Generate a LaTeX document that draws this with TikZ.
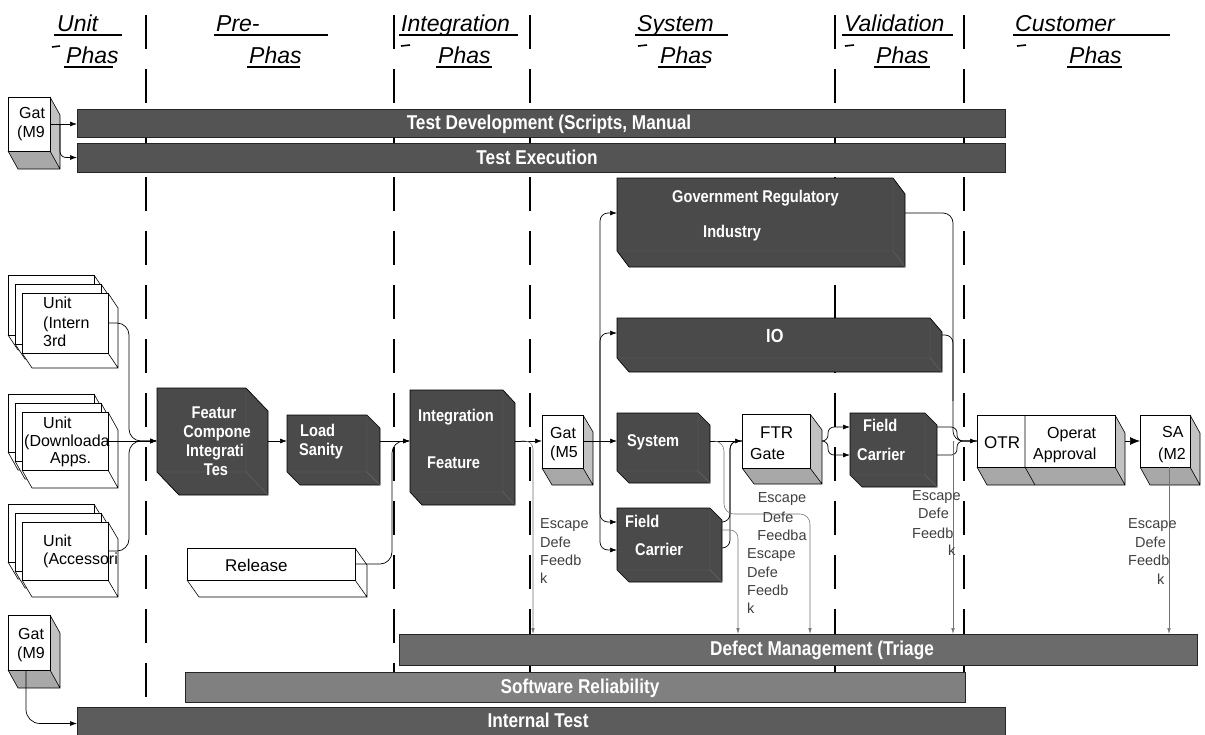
\documentclass[tikz,border=0pt]{standalone}
\usepackage{fontspec}
\setmainfont{Liberation Sans}
\newfontfamily\narrowfont[FakeStretch=0.86]{Liberation Sans}
\usetikzlibrary{arrows.meta,calc}

\definecolor{bartone}{gray}{0.33}
\definecolor{boxtone}{gray}{0.29}
\definecolor{defecttone}{gray}{0.42}
\definecolor{reltone}{gray}{0.50}
\definecolor{inttone}{gray}{0.36}
\definecolor{sidetone}{gray}{0.76}
\definecolor{bottomtone}{gray}{0.66}

\tikzset{
  divider/.style={line width=1.8pt, dash pattern=on 34pt off 20pt},
  bar/.style={rectangle, draw=black!85, line width=0.6pt, inner sep=0pt, outer sep=0pt, anchor=north west},
  anchorbox/.style={rectangle, inner sep=0pt, outer sep=0pt, draw=none},
  facebox/.style={rectangle, inner sep=0pt, outer sep=0pt, draw=black, fill=white, line width=0.6pt},
  flow/.style={draw=black, line width=0.7pt},
  arr/.style={flow, -{Latex[length=7pt,width=5pt]}},
  bigarr/.style={flow, -{Latex[length=10pt,width=8pt]}},
  esc/.style={draw=black!55, line width=0.55pt, -{Latex[length=6pt,width=3.5pt]}},
  hdr/.style={font=\fontsize{23}{26}\selectfont\itshape, anchor=base west, inner sep=0pt},
  uline/.style={line width=1.3pt},
  btxt/.style={font=\narrowfont\bfseries\fontsize{20}{22}\selectfont, text=white, anchor=base, inner sep=0pt},
  dtxt/.style={font=\narrowfont\bfseries\fontsize{17}{19}\selectfont, text=white, anchor=base west, inner sep=0pt},
  ltxt/.style={font=\fontsize{16}{18}\selectfont, anchor=base west, inner sep=0pt},
  etxt/.style={font=\fontsize{14.5}{17}\selectfont, text=black!75, anchor=base west, inner sep=0pt},
}

% dark chamfered block: name, x0, y0, x1, y1, chamfer x, chamfer y
\newcommand\dblock[7]{%
  \path[draw=black, fill=boxtone, line width=0.7pt] (#2,#3) -- ({#4-#6},#3) -- (#4,{#3+#7}) -- (#4,#5) -- ({#2+#6},#5) -- (#2,{#5-#7}) -- cycle;
  \draw[black!60, line width=0.4pt] ({#4-#6},#3) -- ({#4-#6},{#5-#7}) -- (#2,{#5-#7}) ({#4-#6},{#5-#7}) -- (#4,#5);
  \node[anchorbox, minimum width={#4-#2}, minimum height={#5-#3}] (#1) at ({(#2+#4)/2},{(#3+#5)/2}) {};
}

% light extruded block: name, x0, y0, x1, y1 (front face), dx, dy, side colour, bottom colour
\newcommand\lblock[9]{%
  \fill[#8] (#4,#3) -- ({#4+#6},{#3+#7}) -- ({#4+#6},{#5+#7}) -- (#4,#5) -- cycle;
  \fill[#9] (#2,#5) -- (#4,#5) -- ({#4+#6},{#5+#7}) -- ({#2+#6},{#5+#7}) -- cycle;
  \draw[black, line width=0.6pt] (#4,#3) -- ({#4+#6},{#3+#7}) -- ({#4+#6},{#5+#7}) -- ({#2+#6},{#5+#7}) -- (#2,#5) (#4,#5) -- ({#4+#6},{#5+#7});
  \node[facebox, minimum width={#4-#2}, minimum height={#5-#3}] (#1) at ({(#2+#4)/2},{(#3+#5)/2}) {};
}

\begin{document}
\begin{tikzpicture}[x=1pt, y=-1pt]
\useasboundingbox[fill=white] (0,0) rectangle (1205,734);

% phase dividers
\foreach \px in {146,394,530,835,964}
  \draw[divider] (\px,15) -- (\px,734);

% phase headings
\node[hdr] (h1a) at (57,31) {Unit};
\node[hdr] (h1b) at (66,63) {Phas};
\node[hdr] (h2a) at (216,31) {Pre-};
\node[hdr] (h2b) at (249,63) {Phas};
\node[hdr] (h3a) at (401,31) {Integration};
\node[hdr] (h3b) at (438,63) {Phas};
\node[hdr] (h4a) at (637,31) {System};
\node[hdr] (h4b) at (660,63) {Phas};
\node[hdr] (h5a) at (844,31) {Validation};
\node[hdr] (h5b) at (876,63) {Phas};
\node[hdr] (h6a) at (1015,31) {Customer};
\node[hdr] (h6b) at (1069,63) {Phas};
\draw[uline] (54,35) -- (122,35)   (64,67) -- (113,67);
\draw[uline] (214,35) -- (328,35)  (247,67) -- (300,67);
\draw[uline] (399,35) -- (518,35)  (436,67) -- (492,67);
\draw[uline] (635,35) -- (728,35)  (658,67) -- (706,67);
\draw[uline] (842,35) -- (953,35)  (874,67) -- (930,67);
\draw[uline] (1013,35) -- (1170,35) (1067,67) -- (1122,67);
\draw[line width=1.6pt] (52,47) -- (60,46) (401,46) -- (410,45) (638,46) -- (647,45) (845,46) -- (854,45) (1017,46) -- (1026,45);

% horizontal activity bars
\node[bar, fill=bartone, minimum width=928, minimum height=28] (tdev) at (77,109) {};
\node[bar, fill=bartone, minimum width=928, minimum height=29] (texec) at (77,143) {};
\node[bar, fill=defecttone, minimum width=798, minimum height=31] (dm) at (399,634) {};
\node[bar, fill=reltone, minimum width=780, minimum height=30] (sr) at (185,672) {};
\node[bar, fill=inttone, minimum width=928, minimum height=33] (itest) at (77,707) {};

% gates and light blocks
\lblock{gtop}{8}{97}{50}{151}{10}{18}{sidetone}{bottomtone}
\lblock{gbot}{8}{615}{50}{670}{10}{18}{sidetone}{bottomtone}
\lblock{u1c}{8}{275}{94}{335}{10}{15}{white}{white}
\lblock{u1b}{15}{284}{101}{344}{10}{15}{white}{white}
\lblock{u1}{22}{293}{108}{353}{10}{15}{white}{white}
\lblock{u2c}{8}{394}{94}{452}{10}{18}{white}{white}
\lblock{u2b}{15}{403}{101}{461}{10}{18}{white}{white}
\lblock{u2}{22}{412}{108}{470}{10}{18}{white}{white}
\lblock{u3c}{8}{504}{94}{562}{10}{17}{white}{white}
\lblock{u3b}{15}{513}{101}{571}{10}{17}{white}{white}
\lblock{u3}{22}{522}{108}{580}{10}{17}{white}{white}
\lblock{rl}{187}{548}{355}{580}{12}{17}{white}{white}
\lblock{gm5}{542}{415}{583}{468}{10}{17}{sidetone}{bottomtone}
\lblock{ftr}{742}{414}{810}{468}{12}{16}{sidetone}{bottomtone}
\lblock{ot}{977}{415}{1115}{467}{10}{18}{sidetone}{bottomtone}
\draw[line width=0.6pt] (1025,415) -- (1025,467) -- (1035,485);
\lblock{sa}{1140}{415}{1190}{467}{10}{18}{sidetone}{bottomtone}

% dark test blocks
\dblock{ft}{157}{388}{268}{495}{22}{23}
\dblock{ld}{287}{415}{380}{485}{13}{13}
\dblock{ig}{410}{390}{515}{505}{12}{13}
\dblock{gv}{617}{178}{905}{267}{12}{16}
\dblock{io}{617}{318}{942}{372}{12}{14}
\dblock{st}{617}{413}{710}{483}{12}{12}
\dblock{fe}{617}{508}{722}{582}{12}{12}
\dblock{vf}{850}{413}{937}{487}{12}{12}

% main flow level
\coordinate (fl) at (0,441);

% gates into the activity bars
\draw[arr] (gtop.east) -- (gtop.east -| tdev.west);
\draw[arr, rounded corners=6pt] ($(gtop.east)+(10,0)$) |- (texec.west);
\draw[arr, rounded corners=14pt] ($(gbot.south west)+(18,0)$) |- (itest.west);

% unit testing into feature integration
\draw[arr, rounded corners=12pt] (u1.east) -| ($(ft.west |- fl)+(-28,0)$) -- (ft.west |- fl);
\draw[arr] (u2.east) -- (ft.west |- fl);
\draw[arr, rounded corners=12pt] (u3.east) -| ($(ft.west |- fl)+(-28,0)$) -- (ft.west |- fl);

% pre-integration and integration flow
\draw[arr] (ft.east |- fl) -- (ld.west |- fl);
\draw[arr] (ld.east |- fl) -- (ig.west |- fl);
\draw[arr, rounded corners=12pt] (rl.east) -| ($(ig.west |- fl)+(-18,0)$) -- (ig.west |- fl);
\draw[arr] (ig.east |- fl) -- (gm5.west |- fl);
\draw[arr] (gm5.east |- fl) -- (st.west |- fl);

% system phase branches
\coordinate (br) at ($(gm5.east |- fl)+(17,0)$);
\draw[arr, rounded corners=8pt] (br) |- ($(gv.north west)+(0,35)$);
\draw[arr, rounded corners=8pt] (br) |- ($(io.north west)+(0,15)$);
\draw[arr, rounded corners=8pt] (br) |- ($(fe.north west)+(0,14)$);
\draw[arr, rounded corners=8pt] (br) |- ($(fe.north west)+(0,42)$);
\draw[arr] (st.east |- fl) -- (ftr.west |- fl);
\coordinate (fj) at ($(ftr.west |- fl)+(-12,0)$);
\draw[flow, rounded corners=8pt] ($(fe.north east)+(0,14)$) -| (fj) -- (ftr.west |- fl);
\draw[flow, rounded corners=8pt] ($(fe.north east)+(0,40)$) -| (fj) -- (ftr.west |- fl);

% validation phase
\coordinate (fs) at ($(ftr.east)+(12,0)$);
\draw[arr, rounded corners=6pt] (fs) -- ++(6,0) |- ($(vf.north west)+(0,14)$);
\draw[arr, rounded corners=6pt] (fs) -- ++(6,0) |- ($(vf.north west)+(0,42)$);
\coordinate (vj) at ($(ot.west |- fl)+(-20,0)$);
\draw[flow, rounded corners=6pt] ($(vf.north east)+(0,14)$) -| (vj) -- (ot.west |- fl);
\draw[flow, rounded corners=6pt] ($(vf.north east)+(0,42)$) -| (vj) -- (ot.west |- fl);
\draw[arr, rounded corners=10pt] ($(gv.north east)+(0,35)$) -| ($(ot.west |- fl)+(-24,0)$) -- (ot.west |- fl);
\draw[flow, rounded corners=8pt] ($(io.north east)+(0,17)$) -| ($(ot.west |- fl)+(-24,-40)$);
\draw[bigarr] ($(ot.east)+(10,0)$) -- (sa.west);

% escaped defect feedback into defect management
\draw[esc, rounded corners=8pt] ($(ig.east |- fl)+(6,0)$) -| ($(dm.north west)+(134,0)$);
\draw[esc, rounded corners=10pt] ($(st.east |- fl)+(4,0)$) -| ++(10,73) -| ($(dm.north west)+(411,0)$);
\draw[esc, rounded corners=8pt] ($(fe.north east)+(0,22)$) -| ($(dm.north west)+(339,0)$);
\draw[esc] ($(ot.west |- fl)+(-24,0)$) -- ($(dm.north west)+(554,0)$);
\draw[esc] ($(sa.south west)+(29,0)$) -- ($(dm.north west)+(770,0)$);

% bar labels
\node[btxt] (l-tdev) at (549,129) {Test Development (Scripts, Manual};
\node[btxt] (l-texec) at (537,164) {Test Execution};
\node[btxt] (l-dm) at (822,655) {Defect Management (Triage};
\node[btxt] (l-sr) at (580,693) {Software Reliability};
\node[btxt] (l-it) at (538,727) {Internal Test};

% dark block labels
\node[dtxt, anchor=base] (t-ft1) at (214,418) {Featur};
\node[dtxt, anchor=base] (t-ft2) at (217,437) {Compone};
\node[dtxt, anchor=base] (t-ft3) at (215,456) {Integrati};
\node[dtxt, anchor=base] (t-ft4) at (216,475) {Tes};
\node[dtxt] (t-ld1) at (300,436) {Load};
\node[dtxt] (t-ld2) at (299,455) {Sanity};
\node[dtxt] (t-ig1) at (418,421) {Integration};
\node[dtxt] (t-ig2) at (427,468) {Feature};
\node[dtxt] (t-gv1) at (672,202) {Government Regulatory};
\node[dtxt] (t-gv2) at (703,237) {Industry};
\node[dtxt, font=\narrowfont\bfseries\fontsize{19}{21}\selectfont] (t-io) at (766,342) {IO};
\node[dtxt] (t-st) at (627,446) {System};
\node[dtxt] (t-fe1) at (625,527) {Field};
\node[dtxt] (t-fe2) at (635,555) {Carrier};
\node[dtxt] (t-vf1) at (863,431) {Field};
\node[dtxt] (t-vf2) at (857,460) {Carrier};

% light block labels
\node[ltxt] (t-gt1) at (19,118) {Gat};
\node[ltxt] (t-gt2) at (17,137) {(M9};
\node[ltxt] (t-gb1) at (18,639) {Gat};
\node[ltxt] (t-gb2) at (17,658) {(M9};
\node[ltxt] (t-u11) at (43,308) {Unit};
\node[ltxt] (t-u12) at (43,328) {(Intern};
\node[ltxt] (t-u13) at (43,346) {3rd};
\node[ltxt] (t-u21) at (43,428) {Unit};
\node[ltxt] (t-u22) at (24,446) {(Downloada};
\node[ltxt] (t-u23) at (50,463) {Apps.};
\node[ltxt] (t-u31) at (43,546) {Unit};
\node[ltxt] (t-u32) at (43,564) {(Accessori};
\node[ltxt, font=\fontsize{17}{19}\selectfont] (t-rl) at (225,571) {Release};
\node[ltxt] (t-g51) at (550,438) {Gat};
\node[ltxt] (t-g52) at (550,457) {(M5};
\node[ltxt, font=\fontsize{17}{19}\selectfont] (t-ftr1) at (760,438) {FTR};
\node[ltxt] (t-ftr2) at (750,459) {Gate};
\node[ltxt, font=\fontsize{17}{19}\selectfont] (t-ot1) at (984,448) {OTR};
\node[ltxt] (t-ot2) at (1047,438) {Operat};
\node[ltxt] (t-ot3) at (1033,459) {Approval};
\node[ltxt] (t-sa1) at (1162,437) {SA};
\node[ltxt] (t-sa2) at (1158,459) {(M2};

% escaped defect feedback labels
\node[etxt] (e-a1) at (540,528) {Escape};
\node[etxt] (e-a2) at (540,547) {Defe};
\node[etxt] (e-a3) at (540,565) {Feedb};
\node[etxt] (e-a4) at (540,583) {k};
\node[etxt, anchor=base] (e-b1) at (782,502) {Escape};
\node[etxt, anchor=base] (e-b2) at (778,522) {Defe};
\node[etxt, anchor=base] (e-b3) at (782,540) {Feedba};
\node[etxt] (e-c1) at (747,558) {Escape};
\node[etxt] (e-c2) at (747,577) {Defe};
\node[etxt] (e-c3) at (747,595) {Feedb};
\node[etxt] (e-c4) at (747,613) {k};
\node[etxt] (e-d1) at (912,500) {Escape};
\node[etxt] (e-d2) at (918,518) {Defe};
\node[etxt] (e-d3) at (912,538) {Feedb};
\node[etxt] (e-d4) at (948,555) {k};
\node[etxt] (e-e1) at (1128,528) {Escape};
\node[etxt] (e-e2) at (1135,547) {Defe};
\node[etxt] (e-e3) at (1128,565) {Feedb};
\node[etxt] (e-e4) at (1157,584) {k};
\end{tikzpicture}
\end{document}
